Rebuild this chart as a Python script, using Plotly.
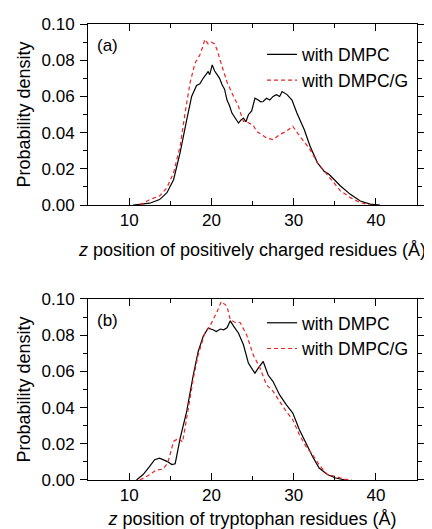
import plotly.graph_objects as go
from plotly.subplots import make_subplots

# Panel (a): positively charged residues
a_z_dmpc = [10.5, 11.5, 12.5, 13.7, 14.6, 15.4, 16.2, 17.0, 17.6, 18.2, 18.6, 19.0, 19.3, 19.6, 19.8, 20.1,
            20.4, 20.7, 21.0, 21.3, 21.6, 21.9, 22.2, 22.5, 22.9, 23.3, 23.6, 23.9, 24.2, 24.5, 24.9, 25.3,
            25.7, 26.0, 26.3, 26.7, 27.1, 27.5, 27.9, 28.3, 28.6, 28.9, 29.2, 29.8, 30.4, 31.3, 32.0, 32.9,
            33.7, 34.3, 34.9, 35.7, 36.9, 38.1, 39.3, 40.5]
a_p_dmpc = [0.0, 0.0005, 0.001, 0.003, 0.0068, 0.014, 0.029, 0.047, 0.060, 0.066, 0.067, 0.070, 0.072, 0.0737, 0.072, 0.0774,
            0.074, 0.0719, 0.070, 0.0664, 0.064, 0.058, 0.055, 0.0508, 0.048, 0.0453, 0.047, 0.048, 0.046, 0.0499, 0.052, 0.059,
            0.058, 0.057, 0.0572, 0.059, 0.058, 0.060, 0.061, 0.060, 0.0627, 0.062, 0.061, 0.058, 0.0508, 0.0416, 0.0325, 0.0233,
            0.0187, 0.017, 0.0141, 0.0105, 0.0059, 0.0022, 0.0005, 0.0]
a_z_dmpcg = [11.3, 12.0, 12.5, 13.7, 14.6, 15.4, 16.2, 16.8, 17.4, 18.0, 18.6, 19.0, 19.2, 19.6, 20.0, 20.4,
             20.7, 21.3, 21.9, 22.7, 23.3, 23.6, 23.9, 24.3, 24.7, 25.1, 25.5, 26.1, 26.7, 27.5, 28.3, 29.1,
             29.9, 30.5, 31.1, 32.0, 32.9, 33.9, 34.9, 35.7, 36.9, 38.1, 39.3]
a_p_dmpcg = [0.0, 0.002, 0.003, 0.005, 0.0096, 0.0178, 0.0325, 0.0508, 0.0673, 0.0783, 0.0829, 0.088, 0.0915, 0.089, 0.090, 0.089,
             0.0856, 0.0765, 0.068, 0.060, 0.0545, 0.050, 0.0462, 0.046, 0.045, 0.044, 0.0407, 0.039, 0.0371, 0.0361, 0.0389, 0.0407,
             0.0435, 0.0396, 0.036, 0.0306, 0.0233, 0.0178, 0.0123, 0.0078, 0.0041, 0.0013, 0.0]

# Panel (b): tryptophan residues
b_z_dmpc = [10.9, 11.7, 12.5, 13.1, 13.7, 14.2, 14.6, 15.2, 15.6, 16.2, 17.0, 17.8, 18.4, 19.0, 19.6, 20.2,
            20.6, 21.1, 21.5, 21.9, 22.3, 22.7, 23.3, 23.9, 24.5, 25.0, 25.3, 25.7, 26.3, 26.9, 27.5, 28.3,
            29.1, 29.9, 30.7, 31.5, 32.3, 33.1, 34.1, 35.1, 36.3]
b_p_dmpc = [0.0, 0.003, 0.0075, 0.0112, 0.0121, 0.011, 0.0103, 0.0085, 0.009, 0.023, 0.0379, 0.058, 0.071, 0.0793, 0.0839, 0.083,
            0.082, 0.0834, 0.083, 0.0841, 0.0879, 0.085, 0.0811, 0.0747, 0.0646, 0.061, 0.059, 0.0618, 0.0655, 0.058, 0.0544, 0.047,
            0.0416, 0.037, 0.0278, 0.0204, 0.013, 0.0066, 0.003, 0.0011, 0.0]
b_z_dmpcg = [11.3, 12.5, 13.3, 14.1, 14.7, 15.4, 16.0, 16.5, 17.0, 17.8, 18.4, 19.2, 19.8, 20.7, 21.2, 21.6,
             21.9, 22.3, 22.9, 23.5, 24.3, 25.1, 25.9, 26.7, 27.5, 28.3, 29.1, 29.9, 30.7, 31.5, 32.3, 33.1,
             34.1, 35.1, 36.3, 37.1]
b_p_dmpcg = [0.0, 0.0029, 0.0055, 0.006, 0.0094, 0.0213, 0.023, 0.021, 0.0342, 0.056, 0.0692, 0.0811, 0.0848, 0.093, 0.0986, 0.097,
             0.096, 0.0885, 0.087, 0.087, 0.080, 0.069, 0.062, 0.0526, 0.049, 0.0434, 0.0379, 0.0333, 0.025, 0.0186, 0.014, 0.0084,
             0.003, 0.002, 0.0003, 0.0]

series_names = ["with DMPC", "with DMPC/G"]
panel_labels = ["(a)", "(b)"]
x_titles = ["<i>z</i> position of positively charged residues (Å)",
            "<i>z</i> position of tryptophan residues (Å)"]
y_title = "Probability density"
x_ticks = [10, 20, 30, 40]
y_ticks = [0.0, 0.02, 0.04, 0.06, 0.08, 0.10]

FONT = "Liberation Sans, Arial, Helvetica, sans-serif"
RED = "#ee2222"

fig = make_subplots(rows=2, cols=1, vertical_spacing=0.206)

panels = [(a_z_dmpc, a_p_dmpc, a_z_dmpcg, a_p_dmpcg), (b_z_dmpc, b_p_dmpc, b_z_dmpcg, b_p_dmpcg)]
for i, (z1, p1, z2, p2) in enumerate(panels):
    leg = "legend" if i == 0 else "legend2"
    fig.add_trace(go.Scatter(x=z1, y=p1, mode="lines", name=series_names[0],
                             line=dict(color="black", width=1.2), legend=leg), row=i + 1, col=1)
    fig.add_trace(go.Scatter(x=z2, y=p2, mode="lines", name=series_names[1],
                             line=dict(color=RED, width=1.2, dash="4px,3px"), legend=leg), row=i + 1, col=1)
    fig.update_xaxes(range=[5, 45], tickvals=x_ticks, ticks="inside", ticklen=7, tickwidth=1,
                     tickcolor="black", showline=True, linecolor="black", linewidth=1, mirror="ticks",
                     showgrid=False, zeroline=False, automargin=False,
                     minor=dict(dtick=5, tick0=0, ticks="inside", ticklen=4, tickcolor="black"),
                     tickfont=dict(size=17, color="black", family=FONT),
                     title=dict(text=x_titles[i], font=dict(size=18, color="black", family=FONT), standoff=13),
                     row=i + 1, col=1)
    fig.update_yaxes(range=[0, 0.10], tickvals=y_ticks, tickformat=".2f", ticks="outside", ticklen=7,
                     tickwidth=1, tickcolor="black", showline=True, linecolor="black", linewidth=1,
                     mirror="ticks", showgrid=False, zeroline=False, ticklabelstandoff=2, automargin=False,
                     minor=dict(dtick=0.01, tick0=0, ticks="outside", ticklen=4, tickcolor="black"),
                     tickfont=dict(size=17, color="black", family=FONT),
                     title=dict(text=y_title, font=dict(size=18, color="black", family=FONT), standoff=6),
                     row=i + 1, col=1)

fig.add_annotation(text=panel_labels[0], xref="x domain", yref="y domain", x=0.02, y=0.88,
                   xanchor="left", yanchor="middle", showarrow=False,
                   font=dict(size=17, color="black", family=FONT))
fig.add_annotation(text=panel_labels[1], xref="x2 domain", yref="y2 domain", x=0.02, y=0.88,
                   xanchor="left", yanchor="middle", showarrow=False,
                   font=dict(size=17, color="black", family=FONT))

leg_common = dict(bgcolor="rgba(0,0,0,0)", borderwidth=0, font=dict(size=17.5, color="black", family=FONT),
                  xanchor="left", yanchor="top", tracegroupgap=0, itemwidth=30)
# The page body adds an 8px margin, so the figure is sized to fit the 432x529 window.
fig.update_layout(
    width=424, height=521,
    margin=dict(l=80, r=15, t=16, b=49, autoexpand=False),
    paper_bgcolor="white", plot_bgcolor="white",
    showlegend=True,
    legend=dict(x=0.529, y=0.9725, **leg_common),
    legend2=dict(x=0.529, y=0.384, **leg_common),
    font=dict(family=FONT, color="black"),
)

fig.write_html("out.html")
